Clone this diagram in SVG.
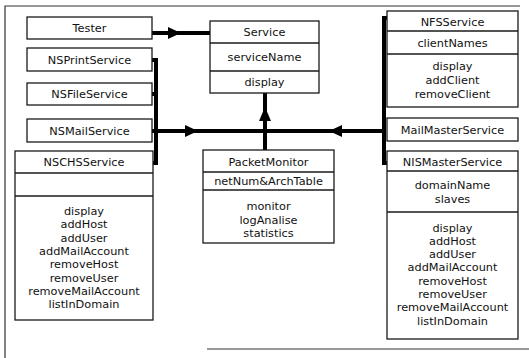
<svg xmlns="http://www.w3.org/2000/svg" width="529" height="358" viewBox="0 0 529 358">
  <style>
    .box { fill: #ffffff; stroke: #1a1a1a; stroke-width: 1.3; }
    .sep { stroke: #1a1a1a; stroke-width: 1.3; }
    .t { font-family: "DejaVu Sans", "Liberation Sans", sans-serif; font-size: 11.3px; fill: #111111; text-anchor: middle; }
    .wire { stroke: #000000; stroke-width: 4; fill: none; }
    .head { fill: #000000; }
    .frame { stroke: #333333; stroke-width: 1.2; fill: none; }
  </style>

  <rect width="529" height="358" fill="#ffffff"/>

  <!-- page frame -->
  <path class="frame" d="M5,358 V6 H520"/>
  <path class="frame" d="M207,349 H529"/>

  <!-- connectors -->
  <g id="connectors">
    <!-- Tester uses Service -->
    <line class="wire" x1="152" y1="33" x2="210" y2="33" stroke-width="3.5"/>
    <polygon class="head" points="181,33 168,27 168,39"/>
    <!-- left bracket of NS* services -->
    <path class="wire" d="M152,60 H156 V163 H152"/>
    <line class="wire" x1="152" y1="94" x2="156" y2="94"/>
    <!-- main bus -->
    <line class="wire" x1="152" y1="131" x2="384" y2="131"/>
    <polygon class="head" points="198,131 185,125 185,137"/>
    <polygon class="head" points="329,131 342,125 342,137"/>
    <!-- right bracket of master services -->
    <path class="wire" d="M388,18 H384 V163 H388"/>
    <!-- PacketMonitor to Service -->
    <line class="wire" x1="265" y1="150" x2="265" y2="93"/>
    <polygon class="head" points="265,107 259,121 271,121"/>
  </g>

  <g id="tester">
    <rect class="box" x="27" y="17" width="125" height="22"/>
    <text class="t" x="89.5" y="32">Tester</text>
  </g>

  <g id="nsprintservice">
    <rect class="box" x="27" y="48" width="125" height="23"/>
    <text class="t" x="89.5" y="63.5">NSPrintService</text>
  </g>

  <g id="nsfileservice">
    <rect class="box" x="27" y="83" width="125" height="22"/>
    <text class="t" x="89.5" y="98">NSFileService</text>
  </g>

  <g id="nsmailservice">
    <rect class="box" x="27" y="119" width="125" height="23"/>
    <text class="t" x="89.5" y="134.5">NSMailService</text>
  </g>

  <g id="nschsservice">
    <rect class="box" x="15" y="151" width="138" height="169"/>
    <line class="sep" x1="15" y1="173" x2="153" y2="173"/>
    <line class="sep" x1="15" y1="196" x2="153" y2="196"/>
    <text class="t" x="84" y="166">NSCHSService</text>
    <text class="t" x="84" y="215">display</text>
    <text class="t" x="84" y="228.3">addHost</text>
    <text class="t" x="84" y="241.6">addUser</text>
    <text class="t" x="84" y="254.9">addMailAccount</text>
    <text class="t" x="84" y="268.2">removeHost</text>
    <text class="t" x="84" y="281.5">removeUser</text>
    <text class="t" x="84" y="294.8">removeMailAccount</text>
    <text class="t" x="84" y="308.1">listInDomain</text>
  </g>

  <g id="service">
    <rect class="box" x="210" y="21" width="109" height="72"/>
    <line class="sep" x1="210" y1="43" x2="319" y2="43"/>
    <line class="sep" x1="210" y1="71" x2="319" y2="71"/>
    <text class="t" x="264.5" y="36">Service</text>
    <text class="t" x="264.5" y="61">serviceName</text>
    <text class="t" x="264.5" y="85.5">display</text>
  </g>

  <g id="packetmonitor">
    <rect class="box" x="203" y="150" width="131" height="93"/>
    <line class="sep" x1="203" y1="172" x2="334" y2="172"/>
    <line class="sep" x1="203" y1="190" x2="334" y2="190"/>
    <text class="t" x="268.5" y="165.5">PacketMonitor</text>
    <text class="t" x="268.5" y="185">netNum&amp;ArchTable</text>
    <text class="t" x="268.5" y="210">monitor</text>
    <text class="t" x="268.5" y="223.5">logAnalise</text>
    <text class="t" x="268.5" y="237">statistics</text>
  </g>

  <g id="nfsservice">
    <rect class="box" x="387" y="11" width="131" height="96"/>
    <line class="sep" x1="387" y1="31" x2="518" y2="31"/>
    <line class="sep" x1="387" y1="54" x2="518" y2="54"/>
    <text class="t" x="452.5" y="25.5">NFSService</text>
    <text class="t" x="452.5" y="46.5">clientNames</text>
    <text class="t" x="452.5" y="69.5">display</text>
    <text class="t" x="452.5" y="83.5">addClient</text>
    <text class="t" x="452.5" y="97.5">removeClient</text>
  </g>

  <g id="mailmasterservice">
    <rect class="box" x="387" y="118" width="131" height="23"/>
    <text class="t" x="452.5" y="133.5">MailMasterService</text>
  </g>

  <g id="nismasterservice">
    <rect class="box" x="387" y="151" width="131" height="188"/>
    <line class="sep" x1="387" y1="171" x2="518" y2="171"/>
    <line class="sep" x1="387" y1="212" x2="518" y2="212"/>
    <text class="t" x="452.5" y="165.5">NISMasterService</text>
    <text class="t" x="452.5" y="188.5">domainName</text>
    <text class="t" x="452.5" y="202.5">slaves</text>
    <text class="t" x="452.5" y="231.5">display</text>
    <text class="t" x="452.5" y="244.8">addHost</text>
    <text class="t" x="452.5" y="258.1">addUser</text>
    <text class="t" x="452.5" y="271.4">addMailAccount</text>
    <text class="t" x="452.5" y="284.7">removeHost</text>
    <text class="t" x="452.5" y="298">removeUser</text>
    <text class="t" x="452.5" y="311.3">removeMailAccount</text>
    <text class="t" x="452.5" y="324.6">listInDomain</text>
  </g>
</svg>
